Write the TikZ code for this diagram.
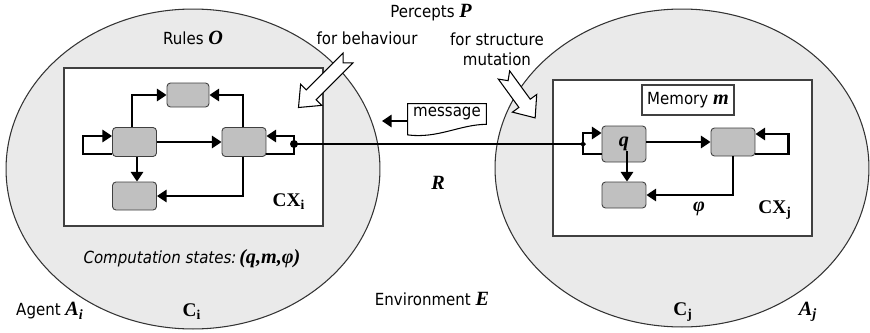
\documentclass[tikz,border=0pt]{standalone}
\usepackage{fontspec}
\setmainfont[FakeStretch=0.9]{DejaVu Sans}
\newfontfamily\tms{Liberation Serif}
\usetikzlibrary{arrows.meta,positioning,shapes.geometric,calc}
\definecolor{agfill}{HTML}{EAEAEA}
\definecolor{agline}{HTML}{333333}
\definecolor{cxline}{HTML}{404040}
\definecolor{cellgray}{HTML}{C0C0C0}
\newcommand{\sym}[1]{{\tms\fontsize{11.5}{13}\selectfont\bfseries\itshape #1}}
\newcommand{\cxlab}[1]{{\tms\fontsize{11}{13}\selectfont\bfseries CX\textsubscript{#1}}}
\tikzset{
  agent/.style={ellipse,draw=agline,fill=agfill,line width=0.6pt},
  ctx/.style={draw=cxline,fill=white,line width=0.7pt},
  cell/.style={rounded corners=2pt,draw=black!75,fill=cellgray,line width=0.5pt,minimum width=0.88cm,minimum height=0.58cm,inner sep=0pt},
  ar/.style={-{Triangle[length=5.5pt,width=7pt]},line width=1.3pt},
  rline/.style={line width=1pt},
  hollow/.style={draw,fill=white,line width=0.6pt,line join=miter},
  lbl/.style={inner sep=1pt},
}
% notched block arrow: tail, angle, length
\newcommand{\perceptarrow}[3]{%
  \draw[hollow,shift={#1},rotate=#2] (0,-7) -- (#3-18,-7) -- (#3-18,-15) -- (#3,0)
    -- (#3-18,15) -- (#3-18,7) -- (0,7) -- (7,0) -- cycle;}

\begin{document}
\begin{tikzpicture}[x=0.02cm,y=-0.02cm,font=\fontsize{9.5}{11.5}\selectfont]
  \useasboundingbox (0,0) rectangle (870,332);
  % agents and their contexts
  \node[agent,minimum width=7.48cm,minimum height=6.4cm] (Ai) at (193,169) {};
  \node[agent,minimum width=7.48cm,minimum height=6.36cm] (Aj) at (682,168) {};
  \node[ctx,minimum width=5.18cm,minimum height=3.16cm] (CXi) at (193.5,147) {};
  \node[ctx,minimum width=5.18cm,minimum height=3.12cm] (CXj) at (682.5,158) {};

  % states of C_i
  \node[cell] (Lin) at (134.5,142) {};
  \node[cell] (Lout) at (244,142) {};
  \node[cell,minimum width=0.84cm,minimum height=0.48cm] (Ltop) at (188,95) {};
  \node[cell,minimum height=0.56cm] (Lbot) at (134.5,196) {};
  \draw[ar] ($(Lin.west)+(0,12)$) -- ++(-29,0) |- ($(Lin.west)+(0,-6)$);
  \draw[ar] ($(Lin.north)+(-2.5,0)$) |- (Ltop);
  \draw[ar] ($(Lout.north)+(-1,0)$) |- (Ltop);
  \draw[ar] (Lin) -- (Lout);
  \draw[ar] ($(Lin.south)+(2.5,0)$) -- ($(Lbot.north)+(2.5,0)$);
  \draw[ar] ($(Lout.south)+(-1,0)$) |- (Lbot);
  \coordinate (jl) at (294,144);
  \draw[ar] ($(Lout.east)+(0,12)$) -| (jl) |- ($(Lout.east)+(0,-6)$);
  \fill (jl) circle[radius=4];

  % states of C_j
  \node[cell,minimum height=0.72cm] (Rq) at (624,144) {\sym{q}};
  \node[cell,minimum height=0.56cm] (Rr) at (733,142) {};
  \node[cell,minimum height=0.52cm] (Rb) at (624,195) {};
  \coordinate (jr) at (583,144);
  \draw[ar] ($(Rq.west)+(0,10)$) -| (jr) |- ($(Rq.west)+(0,-11)$);
  \draw[ar] (Rq.east |- Rr.west) -- (Rr.west);
  \draw[ar] ($(Rq.center)+(3,7)$) -- ($(Rb.north)+(3,0)$);
  \draw[ar] (Rr.south) |- (Rb);
  \draw[ar] ($(Rr.east)+(0,12)$) -- ++(33,0) |- ($(Rr.east)+(0,-8)$);
  \fill (jr) +(-3,0) -- +(0,-3) -- +(3,0) -- +(0,3) -- cycle;
  \node[draw=cxline,fill=white,line width=0.6pt,minimum width=1.84cm,minimum height=0.6cm,inner sep=1pt] (mem) at (688,100) {Memory \sym{m}};

  % relation R
  \draw[rline] (jl) -- (jr);

  % message
  \node[minimum width=1.56cm,minimum height=0.4cm,inner sep=1pt] (msg) at (447,114) {message};
  \draw[line width=0.6pt] (msg.north west) -- (msg.north east) -- (msg.south east)
    .. controls +(-26,0) and +(30,4) .. ([yshift=-6pt]msg.south west) -- cycle;
  \coordinate (msgtip) at (382,121);
  \draw[ar] (msg.west |- msgtip) -- (msgtip);

  % percepts
  \perceptarrow{(348,58)}{-135}{70}
  \perceptarrow{(504,75)}{-54}{53}

  % labels
  \node[lbl] (rules) at (193,38) {Rules \sym{O}};
  \node[lbl] (percepts) at (431,13) {Percepts \sym{P}};
  \node[lbl] (behav) at (367,38) {for behaviour};
  \node[lbl,align=center] (struct) at (497,49) {for structure\\mutation};
  \node[lbl] (rel) at (438,183) {\sym{R}};
  \node[lbl] (cxi) at (289,202) {\cxlab{i}};
  \node[lbl] (states) at (192,259) {\itshape Computation states:\,\sym{(q,m,φ)}};
  \node[lbl] (agi) at (50,311) {Agent \sym{A\textsubscript{i}}};
  \node[lbl] (ci) at (192,312) {\tms\fontsize{11}{13}\selectfont\bfseries C\textsubscript{i}};
  \node[lbl] (env) at (432,299) {Environment \sym{E}};
  \node[lbl] (cj) at (683,312) {\tms\fontsize{11}{13}\selectfont\bfseries C\textsubscript{j}};
  \node[lbl] (agj) at (808,312) {\sym{A\textsubscript{j}}};
  \node[lbl] (phi) at (699,209) {\sym{φ}};
  \node[lbl] (cxj) at (775,210) {\cxlab{j}};
\end{tikzpicture}
\end{document}
